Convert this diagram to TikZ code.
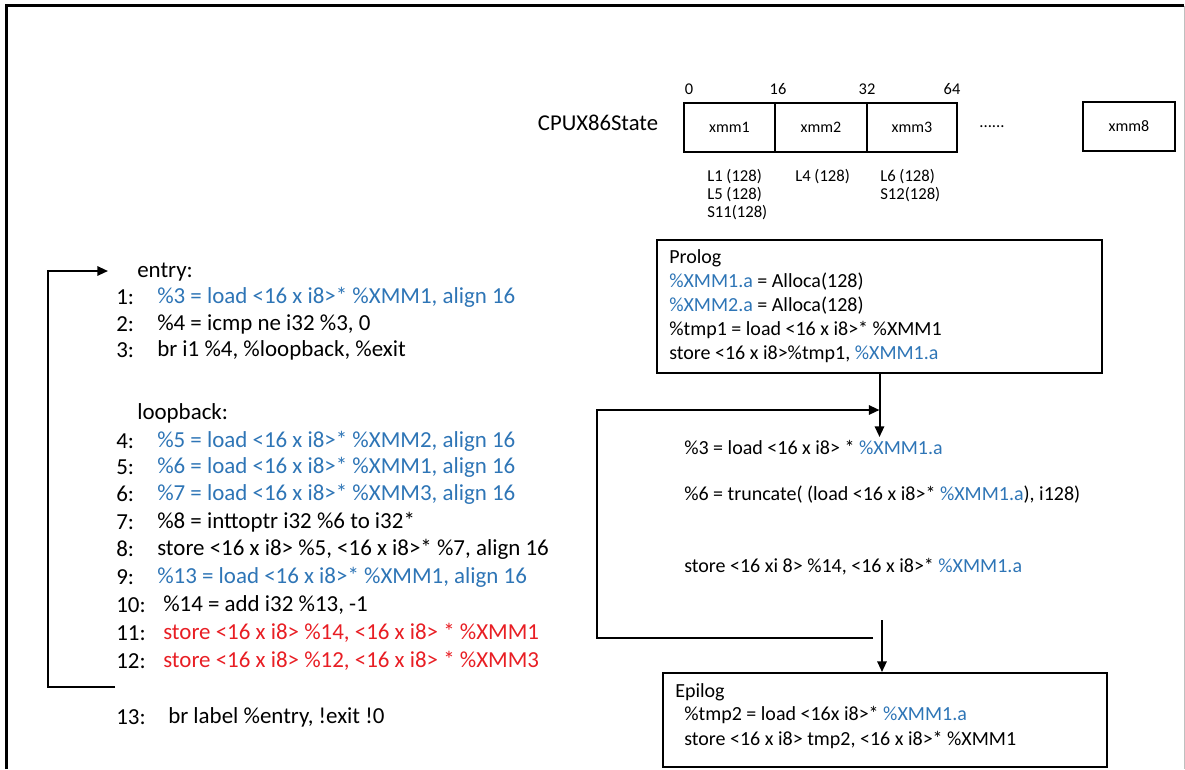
\documentclass[tikz,border=0pt]{standalone}
\usepackage{fontspec}
\setmainfont{Carlito}
\usetikzlibrary{arrows.meta}
\definecolor{irblue}{RGB}{46,117,182}
\definecolor{irred}{RGB}{232,30,36}
\begin{document}
\begin{tikzpicture}[x=0.75pt,y=-0.75pt,
  code/.style={anchor=west,inner sep=0pt,font=\fontsize{17.2}{19}\selectfont},
  rtext/.style={anchor=west,inner sep=0pt,font=\fontsize{15}{17}\selectfont},
  lbl/.style={anchor=west,inner sep=0pt,font=\fontsize{12.5}{14}\selectfont},
  numlbl/.style={inner sep=0pt,font=\fontsize{12.3}{14}\selectfont},
  regbox/.style={draw,line width=1.5pt,inner sep=0pt,minimum height=36.75pt,font=\fontsize{12}{14}\selectfont},
  blockbox/.style={draw,line width=1.5pt,inner sep=0pt},
  conn/.style={line width=1.5pt},
  arr/.style={conn,-{Triangle[length=8pt,width=7pt]}}]
\useasboundingbox (0,0) rectangle (1185,769);
% frame
\draw[line width=2.25pt] (6.5,769) -- (6.5,5.5) -- (1184,5.5);
\draw[black!25,line width=0.75pt] (1184.5,5.5) -- (1184.5,769);

% CPU state
\node[inner sep=0pt,font=\fontsize{17}{19}\selectfont] (cpu) at (598,123) {CPUX86State};
\node[regbox,minimum width=68.25pt] (x1) at (729.5,127.5) {xmm1};
\node[regbox,minimum width=69pt] (x2) at (821,127.5) {xmm2};
\node[regbox,minimum width=67.5pt] (x3) at (912,127.5) {xmm3};
\node[inner sep=0pt,font=\fontsize{12.5}{14}\selectfont] (dots) at (992,127) {......};
\node[regbox,minimum width=69pt] (x8) at (1129,126.5) {xmm8};
\node[numlbl] (n0) at (689,89) {0};
\node[numlbl] (n16) at (778,89) {16};
\node[numlbl] (n32) at (867,89) {32};
\node[numlbl] (n64) at (952,89) {64};
\node[lbl] (l1) at (707,177) {L1 (128)};
\node[lbl] (l5) at (707,195) {L5 (128)};
\node[lbl] (s11) at (707,213) {S11(128)};
\node[lbl] (l4) at (795,177) {L4 (128)};
\node[lbl] (l6) at (880,177) {L6 (128)};
\node[lbl] (s12) at (880,195) {S12(128)};

% left listing
\node[code] (entry) at (137,272) {entry:};
\node[code] (c1n) at (116,297) {1:};
\node[code,text=irblue] (c1) at (157,297) {\%3 = load <16 x i8>* \%XMM1, align 16};
\node[code] (c2n) at (116,324) {2:};
\node[code] (c2) at (157,324) {\%4 = icmp ne i32 \%3, 0};
\node[code] (c3n) at (116,350) {3:};
\node[code] (c3) at (157,350) {br i1 \%4, \%loopback, \%exit};
\node[code] (loop) at (137,413) {loopback:};
\node[code] (c4n) at (116,441) {4:};
\node[code,text=irblue] (c4) at (157,441) {\%5 = load <16 x i8>* \%XMM2, align 16};
\node[code] (c5n) at (116,467) {5:};
\node[code,text=irblue] (c5) at (157,467) {\%6 = load <16 x i8>* \%XMM1, align 16};
\node[code] (c6n) at (116,494) {6:};
\node[code,text=irblue] (c6) at (157,494) {\%7 = load <16 x i8>* \%XMM3, align 16};
\node[code] (c7n) at (116,522) {7:};
\node[code] (c7) at (157,522) {\%8 = inttoptr i32 \%6 to i32*};
\node[code] (c8n) at (116,549) {8:};
\node[code] (c8) at (157,549) {store <16 x i8> \%5, <16 x i8>* \%7, align 16};
\node[code] (c9n) at (116,577) {9:};
\node[code,text=irblue] (c9) at (157,577) {\%13 = load <16 x i8>* \%XMM1, align 16};
\node[code] (c10n) at (116,605) {10:};
\node[code] (c10) at (163,605) {\%14 = add i32 \%13, -1};
\node[code] (c11n) at (116,633) {11:};
\node[code,text=irred] (c11) at (163,633) {store <16 x i8> \%14, <16 x i8> * \%XMM1};
\node[code] (c12n) at (116,661) {12:};
\node[code,text=irred] (c12) at (163,661) {store <16 x i8> \%12, <16 x i8> * \%XMM3};
\node[code] (c13n) at (116,717) {13:};
\node[code] (c13) at (168,717) {br label \%entry, !exit !0};

\coordinate (lb) at (48,687);
\coordinate (lbe) at (115,687);
\coordinate (lt) at (48,271);
\coordinate (lta) at (108,271);
\draw[arr] (lbe) -- (lb) -- (lt) -- (lta);

% prolog
\node[blockbox,minimum width=333.75pt,minimum height=99.75pt] (prolog) at (879.5,306.5) {};
\node[rtext] (p0) at (669,258) {Prolog};
\node[rtext] (p1) at (669,282) {\textcolor{irblue}{\%XMM1.a} = Alloca(128)};
\node[rtext] (p2) at (669,306) {\textcolor{irblue}{\%XMM2.a} = Alloca(128)};
\node[rtext] (p3) at (669,330) {\%tmp1 = load <16 x i8>* \%XMM1};
\node[rtext] (p4) at (669,354) {store <16 x i8>\%tmp1, \textcolor{irblue}{\%XMM1.a}};

% body
\node[rtext] (m1) at (684,447) {\%3 = load <16 x i8> * \textcolor{irblue}{\%XMM1.a}};
\node[rtext] (m2) at (684,495) {\%6 = truncate( (load <16 x i8>* \textcolor{irblue}{\%XMM1.a}), i128)};
\node[rtext] (m3) at (684,567) {store <16 xi 8> \%14, <16 x i8>* \textcolor{irblue}{\%XMM1.a}};

\coordinate (mtop) at (879.5,437);
\draw[arr] (prolog.south) -- (mtop);

\coordinate (rb) at (597,638);
\coordinate (rbe) at (873,638);
\coordinate (rt) at (597,410);
\coordinate (rta) at (879.5,410);
\draw[arr] (rbe) -- (rb) -- (rt) -- (rta);

% epilog
\node[blockbox,minimum width=333pt,minimum height=70.5pt] (epilog) at (885,720) {};
\node[rtext] (e0) at (675,692) {Epilog};
\node[rtext] (e1) at (684,715) {\%tmp2 = load <16x i8>* \textcolor{irblue}{\%XMM1.a}};
\node[rtext] (e2) at (684,740) {store <16 x i8> tmp2, <16 x i8>* \%XMM1};

\coordinate (etop) at (882,620);
\draw[arr] (etop) -- (etop |- epilog.north);
\end{tikzpicture}
\end{document}
